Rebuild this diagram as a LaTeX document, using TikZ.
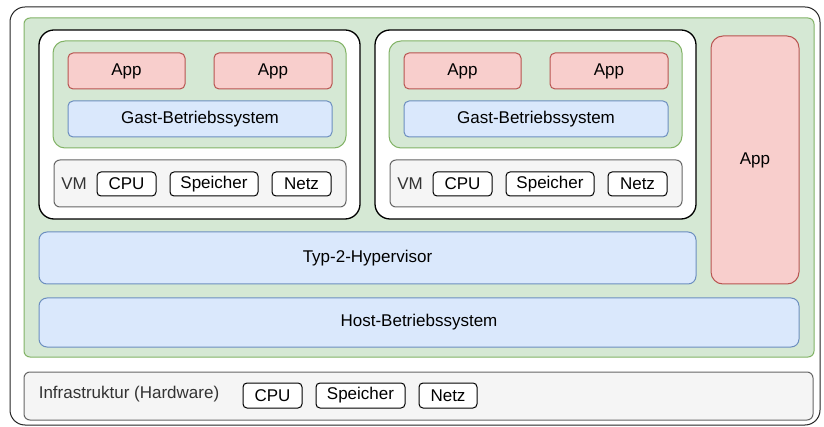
\documentclass[tikz,border=0pt]{standalone}
\usepackage{fontspec}
\setmainfont{Liberation Sans}
\definecolor{redfill}{HTML}{F8CECC}
\definecolor{redline}{HTML}{B85450}
\definecolor{bluefill}{HTML}{DAE8FC}
\definecolor{blueline}{HTML}{6C8EBF}
\definecolor{greenfill}{HTML}{D5E8D4}
\definecolor{greenline}{HTML}{82B366}
\definecolor{greyfill}{HTML}{F5F5F5}
\definecolor{greyline}{HTML}{666666}
\definecolor{greytext}{HTML}{333333}
\tikzset{
  layer/.style={draw, rounded corners=6, line width=1, inner sep=0, font=\fontsize{17}{20}\selectfont},
  applayer/.style={layer, fill=redfill, draw=redline},
  oslayer/.style={layer, fill=bluefill, draw=blueline},
  hostlayer/.style={layer, fill=greenfill, draw=greenline},
  hwlayer/.style={layer, fill=greyfill, draw=greyline},
  part/.style={layer, fill=white, draw=black, rounded corners=4},
}
\begin{document}
\begin{tikzpicture}[x=1pt, y=-1pt]
  \useasboundingbox (0,0) rectangle (824,427);
  \node[layer, fill=white, draw=black!85, rounded corners=15, minimum width=810, minimum height=418] (frame) at (415,216) {}; % Rahmen

  % Host mit Hypervisor
  \node[hostlayer, minimum width=790, minimum height=339] (host) at (419,187.5) {};

  % zwei VMs
  \foreach \dx/\n in {0/1, 336/2} {
    \node[layer, fill=white, draw=black, line width=1.3, rounded corners=15, minimum width=321, minimum height=189] (vm\n) at (199.5+\dx,124.5) {};
    \node[hostlayer, rounded corners=12, minimum width=293, minimum height=107] (guest\n) at (199.5+\dx,94.5) {};
    \node[applayer, rounded corners=5, minimum width=117, minimum height=36] (appa\n) at (126.5+\dx,71) {App};
    \node[applayer, rounded corners=5, minimum width=118, minimum height=36] (appb\n) at (273+\dx,71) {App};
    \node[oslayer, rounded corners=5, minimum width=264, minimum height=36] (gast\n) at (200+\dx,119) {Gast-Betriebssystem};
    \node[hwlayer, minimum width=292, minimum height=47] (vhw\n) at (200+\dx,183.5) {};
    \node[font=\fontsize{17}{20}\selectfont, text=greytext, inner sep=0] (vmlabel\n) at (74+\dx,184) {VM};
    \node[part, minimum width=59, minimum height=24] (vcpu\n) at (126.5+\dx,184) {CPU};
    \node[part, minimum width=88, minimum height=24] (vmem\n) at (214+\dx,184) {Speicher};
    \node[part, minimum width=59, minimum height=24] (vnet\n) at (301.5+\dx,184) {Netz};
  }

  % native App neben dem Hypervisor
  \node[applayer, rounded corners=12, minimum width=88, minimum height=248] (app) at (755,160) {App};

  \node[oslayer, rounded corners=8, minimum width=657, minimum height=52] (hyp) at (367.5,258) {Typ-2-Hypervisor};
  \node[oslayer, rounded corners=8, minimum width=760, minimum height=49] (hostos) at (419,322.5) {Host-Betriebssystem};

  % Hardware
  \node[hwlayer, minimum width=789, minimum height=48] (infra) at (418.5,396) {};
  \node[font=\fontsize{17}{20}\selectfont, text=greytext, inner sep=0] (infralabel) at (129,394) {Infrastruktur (Hardware)};
  \node[part, minimum width=59, minimum height=25] (cpu) at (272.5,395.5) {CPU};
  \node[part, minimum width=89, minimum height=25] (mem) at (360.5,395.5) {Speicher};
  \node[part, minimum width=58, minimum height=25] (net) at (448,395.5) {Netz};
\end{tikzpicture}
\end{document}
